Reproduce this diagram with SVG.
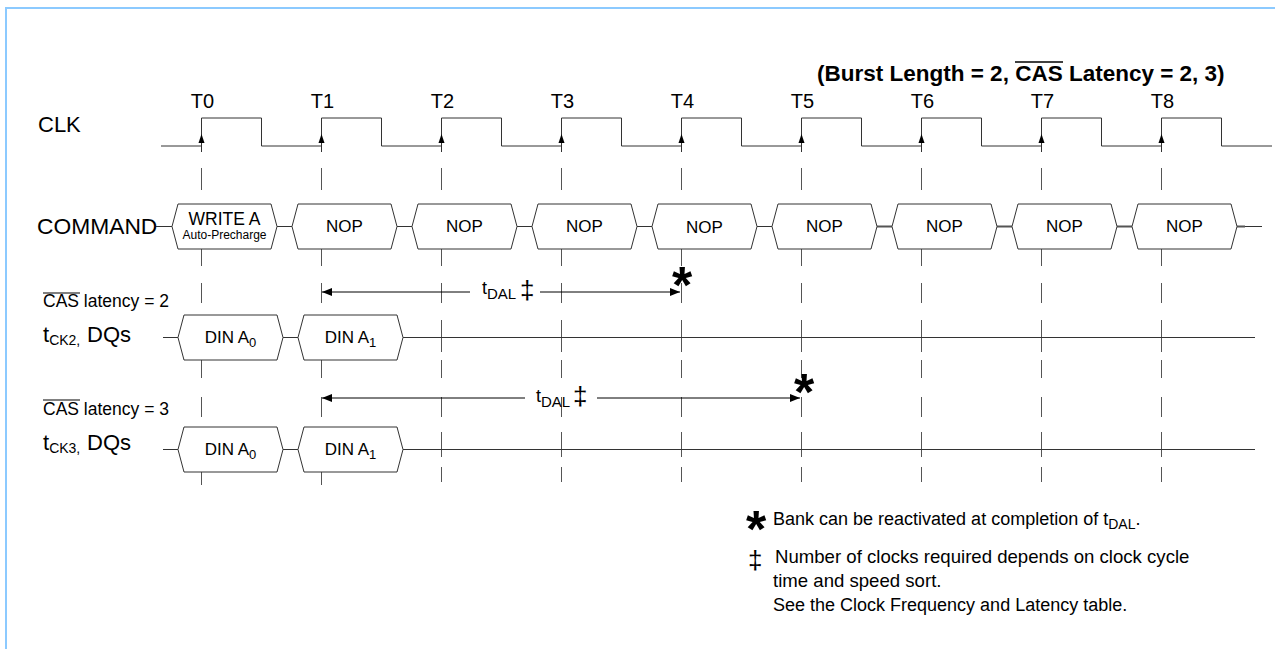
<svg xmlns="http://www.w3.org/2000/svg" width="1275" height="649" viewBox="0 0 1275 649">
<style>
text{font-family:"Liberation Sans",Arial,sans-serif;fill:#000}
.lbl{font-size:22px}
.tl{font-size:20px;text-anchor:middle}
.box{fill:#fff;stroke:#333;stroke-width:1}
.sig{fill:none;stroke:#333;stroke-width:1}
.dash{fill:none;stroke:#555;stroke-width:1}
.bt{font-size:17px;text-anchor:middle}
.lg{font-size:18px}
.star{font-size:52px;font-weight:bold;text-anchor:middle}
.dd{font-size:26px}
</style>
<defs>
<polygon id="hex" points="0,22.5 6,0 99,0 105,22.5 99,45 6,45"/>
<path id="clkArrow" d="M0,134 L-3,143 L3,143 Z" fill="#000"/>
<marker id="ah" viewBox="0 0 10 8" refX="10" refY="4" markerWidth="10" markerHeight="8" orient="auto-start-reverse" markerUnits="userSpaceOnUse">
<path d="M0,0 L10,4 L0,8 Z" fill="#000"/>
</marker>
</defs>
<rect width="1275" height="649" fill="#fff"/>
<path id="border" d="M6,649 V8 H1275" fill="none" stroke="#8ccaff" stroke-width="2"/>

<g id="title">
<text x="817" y="81" style="font-size:22.5px;font-weight:bold">(Burst Length = 2, CAS Latency = 2, 3)</text>
<line x1="1015" y1="62" x2="1063" y2="62" stroke="#000" stroke-width="1.6"/>
</g>

<g id="labels">
<text class="lbl" x="38" y="132">CLK</text>
<text x="37" y="234" style="font-size:22.8px">COMMAND</text>
<text x="43" y="307" style="font-size:17.5px">CAS latency = 2</text>
<line x1="43" y1="293" x2="80" y2="293" stroke="#000" stroke-width="1"/>
<text x="43" y="342" style="font-size:22px">t<tspan dy="3" style="font-size:14px">CK2,</tspan><tspan x="87" dy="-3">DQs</tspan></text>
<text x="43" y="415" style="font-size:17.5px">CAS latency = 3</text>
<line x1="43" y1="400" x2="80" y2="400" stroke="#000" stroke-width="1"/>
<text x="43" y="450" style="font-size:22px">t<tspan dy="3" style="font-size:14px">CK3,</tspan><tspan x="87" dy="-3">DQs</tspan></text>
<text class="tl" x="202.5" y="108">T0</text>
<text class="tl" x="322.5" y="108">T1</text>
<text class="tl" x="442.5" y="108">T2</text>
<text class="tl" x="562.5" y="108">T3</text>
<text class="tl" x="682.5" y="108">T4</text>
<text class="tl" x="802.5" y="108">T5</text>
<text class="tl" x="922.5" y="108">T6</text>
<text class="tl" x="1042.5" y="108">T7</text>
<text class="tl" x="1162.5" y="108">T8</text>
</g>

<g id="clk">
<path class="sig" d="M161,146 H201.5 V118 H261.5 V146 H321.5 V118 H381.5 V146 H441.5 V118 H501.5 V146 H561.5 V118 H621.5 V146 H681.5 V118 H741.5 V146 H801.5 V118 H861.5 V146 H921.5 V118 H981.5 V146 H1041.5 V118 H1101.5 V146 H1161.5 V118 H1221.5 V146 H1272"/>
<path class="sig" d="M201.5,146 V152 M321.5,146 V152 M441.5,146 V152 M561.5,146 V152 M681.5,146 V152 M801.5,146 V152 M921.5,146 V152 M1041.5,146 V152 M1161.5,146 V152"/>
<use href="#clkArrow" x="201.5"/><use href="#clkArrow" x="321.5"/><use href="#clkArrow" x="441.5"/>
<use href="#clkArrow" x="561.5"/><use href="#clkArrow" x="681.5"/><use href="#clkArrow" x="801.5"/>
<use href="#clkArrow" x="921.5"/><use href="#clkArrow" x="1041.5"/><use href="#clkArrow" x="1161.5"/>
</g>

<g id="gridlines">
<path class="dash" d="M201.5,168 V190 M201.5,249 V266 M201.5,283 V303 M201.5,360 V378 M201.5,397 V417 M201.5,472 V485
M321.5,168 V190 M321.5,249 V266 M321.5,283 V303 M321.5,360 V378 M321.5,397 V417 M321.5,472 V485
M441.5,168 V190 M441.5,249 V266 M441.5,283 V303 M441.5,320 V352 M441.5,360 V378 M441.5,397 V417 M441.5,432 V457 M441.5,467 V482
M561.5,168 V190 M561.5,249 V266 M561.5,283 V303 M561.5,320 V352 M561.5,360 V378 M561.5,397 V417 M561.5,432 V457 M561.5,467 V482
M681.5,168 V190 M681.5,249 V266 M681.5,283 V303 M681.5,320 V352 M681.5,360 V378 M681.5,397 V417 M681.5,432 V457 M681.5,467 V482
M801.5,168 V190 M801.5,249 V266 M801.5,283 V303 M801.5,320 V352 M801.5,360 V378 M801.5,397 V417 M801.5,432 V457 M801.5,467 V482
M921.5,168 V190 M921.5,249 V266 M921.5,283 V303 M921.5,320 V352 M921.5,360 V378 M921.5,397 V417 M921.5,432 V457 M921.5,467 V482
M1041.5,168 V190 M1041.5,249 V266 M1041.5,283 V303 M1041.5,320 V352 M1041.5,360 V378 M1041.5,397 V417 M1041.5,432 V457 M1041.5,467 V482
M1161.5,168 V190 M1161.5,249 V266 M1161.5,283 V303 M1161.5,320 V352 M1161.5,360 V378 M1161.5,397 V417 M1161.5,432 V457 M1161.5,467 V482"/>
</g>

<g id="connectors">
<path class="sig" d="M156,226.5 H172 M277,226.5 H292 M397,226.5 H412 M517,226.5 H532 M637,226.5 H652 M757,226.5 H772 M877,226.5 H892 M997,226.5 H1012 M1117,226.5 H1132 M1237,226.5 H1262"/>
<path d="M877,226.5 H892 M997,226.5 H1012 M1117,226.5 H1132 M1237,226.5 H1245" fill="none" stroke="#555" stroke-width="2"/>
<path class="sig" d="M163,337.5 H178 M283,337.5 H298 M403,337.5 H1255"/>
<path class="sig" d="M163,449.5 H178 M283,449.5 H298 M403,449.5 H1255"/>
<line x1="470" y1="292" x2="322" y2="292" stroke="#000" stroke-width="1" marker-end="url(#ah)"/>
<line x1="540" y1="292" x2="680" y2="292" stroke="#000" stroke-width="1" marker-end="url(#ah)"/>
<line x1="525" y1="398" x2="322" y2="398" stroke="#000" stroke-width="1" marker-end="url(#ah)"/>
<line x1="597" y1="398" x2="800" y2="398" stroke="#000" stroke-width="1" marker-end="url(#ah)"/>
</g>

<g id="tdal1">
<text x="482" y="294" style="font-size:18px">t<tspan dy="5" style="font-size:15px">DAL</tspan></text>
<text class="dd" x="520" y="299">‡</text>
<text class="star" x="682" y="303">*</text>
</g>
<g id="tdal2">
<text x="536" y="402" style="font-size:18px">t<tspan dy="5" style="font-size:15px">DAL</tspan></text>
<text class="dd" x="573" y="405">‡</text>
<text class="star" x="804" y="410">*</text>
</g>

<g id="cmd0"><use href="#hex" class="box" x="172" y="204"/><text x="224.5" y="225" style="font-size:17.5px;text-anchor:middle">WRITE A</text><text x="224.5" y="239" style="font-size:12px;text-anchor:middle">Auto-Precharge</text></g>
<g id="cmd1"><use href="#hex" class="box" x="292" y="204"/><text class="bt" x="344.5" y="232">NOP</text></g>
<g id="cmd2"><use href="#hex" class="box" x="412" y="204"/><text class="bt" x="464.5" y="232">NOP</text></g>
<g id="cmd3"><use href="#hex" class="box" x="532" y="204"/><text class="bt" x="584.5" y="232">NOP</text></g>
<g id="cmd4"><use href="#hex" class="box" x="652" y="204"/><text class="bt" x="704.5" y="233">NOP</text></g>
<g id="cmd5"><use href="#hex" class="box" x="772" y="204"/><text class="bt" x="824.5" y="232">NOP</text></g>
<g id="cmd6"><use href="#hex" class="box" x="892" y="204"/><text class="bt" x="944.5" y="232">NOP</text></g>
<g id="cmd7"><use href="#hex" class="box" x="1012" y="204"/><text class="bt" x="1064.5" y="232">NOP</text></g>
<g id="cmd8"><use href="#hex" class="box" x="1132" y="204"/><text class="bt" x="1184.5" y="232">NOP</text></g>

<g id="dq2a"><use href="#hex" class="box" x="178" y="315"/><text class="bt" x="230.5" y="343">DIN A<tspan dy="4" style="font-size:13px">0</tspan></text></g>
<g id="dq2b"><use href="#hex" class="box" x="298" y="315"/><text class="bt" x="350.5" y="343">DIN A<tspan dy="4" style="font-size:13px">1</tspan></text></g>
<g id="dq3a"><use href="#hex" class="box" x="178" y="427"/><text class="bt" x="230.5" y="455">DIN A<tspan dy="4" style="font-size:13px">0</tspan></text></g>
<g id="dq3b"><use href="#hex" class="box" x="298" y="427"/><text class="bt" x="350.5" y="455">DIN A<tspan dy="4" style="font-size:13px">1</tspan></text></g>

<g id="legend">
<text class="star" x="756" y="547">*</text>
<text class="lg" x="773" y="525">Bank can be reactivated at completion of t<tspan dy="4" style="font-size:14px">DAL</tspan><tspan dy="-4">.</tspan></text>
<text class="dd" x="748" y="569">‡</text>
<text x="775" y="563" style="font-size:18.6px">Number of clocks required depends on clock cycle</text>
<text x="773" y="587" style="font-size:18.6px">time and speed sort.</text>
<text class="lg" x="773" y="611">See the Clock Frequency and Latency table.</text>
</g>
</svg>
